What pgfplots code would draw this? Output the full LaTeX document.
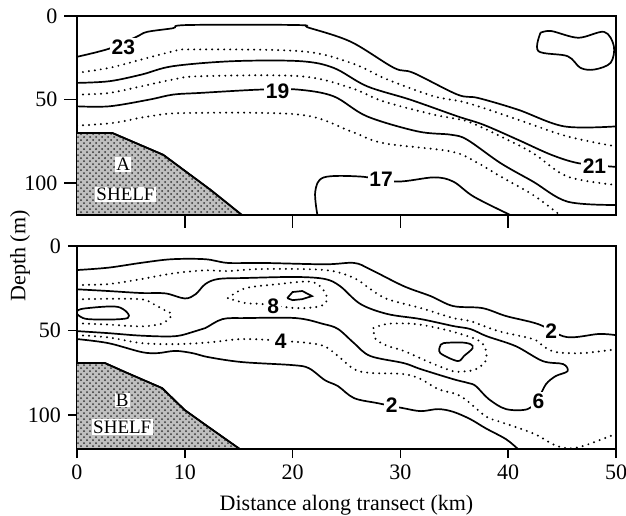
\documentclass[border=0pt]{standalone}
\usepackage{fontspec}
\setmainfont{Liberation Serif}
\setsansfont{Liberation Sans}
\usepackage{pgfplots}
\pgfplotsset{compat=1.18}
\usetikzlibrary{calc,patterns}

\pgfplotsset{
  panel/.style={
    scale only axis, width=269.5pt,
    xmin=0, xmax=50, y dir=reverse, ymin=0,
    ytick={0,50,100}, ytick pos=left, xtick pos=left,
    tick align=outside,
    tick label style={font=\fontsize{11}{12}\selectfont},
    /pgf/number format/assume math mode=true,
    axis line style={line width=0.75pt},
    every tick/.style={black, line width=0.75pt},
  },
  iso/.style={black, line width=0.85pt, smooth, tension=0.55, mark=none},
  isod/.style={iso, line width=1.1pt, line cap=round, dash pattern=on 0pt off 3pt},
  shelf/.style={draw=black, line width=0.85pt, fill=gray!50, mark=none,
    postaction={pattern=crosshatch dots, pattern color=black!80}},
}
\tikzset{
  clab/.style={font=\fontsize{10.5}{11}\selectfont\sffamily\bfseries, fill=white, inner sep=0.8pt},
  slab/.style={font=\fontsize{9.5}{10}\selectfont, fill=white, inner sep=0.6pt},
}

\begin{document}
\begin{tikzpicture}
% ---------- panel A : temperature ----------
\begin{axis}[panel, name=top, height=99.5pt, ymax=119,
  xtick={10,20,30,40}, xticklabels={}, major tick length=6.3pt]

\addplot[shelf] coordinates {(0,70) (3.3,70) (8,83) (12.4,104) (15.3,119) (0,119)};

% 23
\addplot[iso] coordinates {(0,24.4) (3,19.5) (5.5,12.5) (6.5,9.5) (8.9,7.3) (10.2,5.4)
  (20.4,5.4) (21.5,7) (25.4,15.4) (29.4,31) (31.2,34) (35.3,47) (37.2,49) (40.9,56)
  (45.2,66) (50,66)};
\addplot[isod] coordinates {(0,34) (3,31) (6,26) (9,21) (10.5,20) (20.7,21) (25.4,28)
  (28.8,38) (33.1,48) (36.2,52) (40.9,62) (45.5,72) (50,78)};
% 21
\addplot[iso] coordinates {(0,40) (3,39) (6,35) (8.9,30) (14.5,27) (20.7,27) (23.8,31)
  (26.9,42) (30.9,50) (35.3,60) (37.7,65) (40.9,74) (44,83) (46.5,88) (49.5,90) (50,90)};
\addplot[isod] coordinates {(0,47) (3,46) (6.7,41) (8.9,38) (11.4,36) (20.7,36) (25.4,43)
  (28.4,51) (33.1,59) (36.2,63) (39.3,72) (42.3,82) (45.5,96) (50,101)};
% 19
\addplot[iso] coordinates {(0,54) (3,54) (6.7,50) (8.9,47) (11.4,46) (17,44) (20.5,44)
  (23.8,48) (26.9,60) (31.6,69) (34.7,71) (36.2,74) (39.3,88) (42.3,99) (45.5,111) (50,113)};
\addplot[isod] coordinates {(0,65.5) (3.3,64) (6.7,60) (10.2,58) (20.7,59) (25.4,69)
  (28.4,76) (34.7,81) (37.2,88) (39.3,96) (42.3,107) (44.6,118)};
% 17
\addplot[iso] coordinates {(22.3,119) (22.1,105) (22.9,96.5) (26.3,96) (29.7,99)
  (33.1,96.5) (34.9,99) (36.8,108) (40.2,119)};
% warm patch, upper right
\addplot[iso] coordinates {(43,10) (44,9) (46.5,13) (48.9,9.5) (49.8,18) (49.5,28)
  (48,32) (46.7,31) (45.5,24) (42.8,21) (43,10)};

\node[clab] at (axis cs:4.3,18.5) {23};
\node[clab] at (axis cs:18.6,45) {19};
\node[clab] at (axis cs:48,90) {21};
\node[clab] at (axis cs:28.2,97.6) {17};
\node[slab] at (axis cs:4.3,88.7) {A};
\node[slab] at (axis cs:4.5,106.5) {SHELF};
\end{axis}

% ---------- panel B ----------
\begin{axis}[panel, name=bot, height=101.5pt, ymax=120,
  at={($(top.south west)+(0,-15.5pt)$)}, anchor=north west,
  xtick={0,10,...,50}, major tick length=4.5pt,
  xlabel={Distance along transect (km)},
  xlabel style={font=\fontsize{11}{12}\selectfont, yshift=-1pt}]

\addplot[shelf] coordinates {(0,69.2) (2.6,69.2) (4.5,74.6) (7.9,84) (10,97) (12.2,107) (15.1,120) (0,120)};

% outer 2
\addplot[iso] coordinates {(0,14.2) (2.9,12.8) (6,9.9) (8.8,7.8) (11.9,7.8) (14,10)
  (17.2,10) (23,10.8) (25.7,10) (27.2,13.8) (30.3,23.7) (32.8,29.6) (34.9,35.5)
  (37.6,36.7) (39.8,41.4) (42.8,46.2) (45.4,53.8) (48.4,52) (50,52.7)};
\addplot[isod] coordinates {(0,23) (2.9,22.5) (6,19.5) (9.1,16) (11.9,14.4) (14,14.8)
  (17.2,13.6) (23,14.2) (25.7,18.9) (27.2,25.4) (28.8,31.4) (31.9,36.7) (34.9,42.6)
  (36.5,44.4) (39.1,50.3) (42.3,55) (43.2,59) (44.4,62.7) (46.9,63.3) (50,61)};
% 6
\addplot[iso] coordinates {(0,25.6) (2.9,26.6) (6,27.8) (8.2,28) (10,31) (11,28.5)
  (11.9,22.5) (13.1,19.5) (15.6,18.9) (20.3,18.3) (23,19.5) (24.4,23.7) (26.3,34.3)
  (28.8,40.2) (31.9,43.2) (34.9,47.3) (36.5,49.1) (38,53.3) (40.7,59.2) (43.2,68)
  (45.1,69.8) (45.5,74) (44.4,76.9) (43.5,81.7) (42.8,90) (41.8,96.4) (39.8,96.4)
  (38.2,90.5) (37,82.8) (36.3,81) (34.9,78.7) (31.9,72.8) (30.3,69.2) (27.2,65)
  (25.7,57.4) (24.2,49) (22.8,46) (20.3,42.6) (15.6,42.6) (13.5,43.2) (11.9,48.5)
  (11,50.3) (9.1,53.3) (6,53) (2.9,51.5) (0,50.3)};
% dotted cell at left edge
\addplot[isod] coordinates {(0,31.5) (2.9,31.2) (6,31.5) (7,34) (8,37.5) (8.8,40.2)
  (8.5,43) (7.8,46) (6,47.5) (3,46.5) (0,45.6)};
\addplot[iso] coordinates {(0,38.5) (0.7,36.9) (3.8,36) (4.7,42.6) (1,43.2) (0,40)};
% 8 cell
\addplot[isod] coordinates {(14,30.8) (15.6,25) (18.7,22.5) (21.5,21) (22.6,24)
  (23.2,31) (22.6,35.5) (20.3,36.7) (17.2,34.3) (15.6,33.7) (14,30.8)};
\addplot[iso, sharp plot] coordinates {(19.5,30.8) (20,27.2) (20.9,26.6) (21.8,29.6)
  (20.9,31.4) (20,32) (19.5,30.8)};
% cell near 35 km
\addplot[isod] coordinates {(27.5,48.5) (28.8,46) (31.2,46) (33.5,48.5) (35.6,52)
  (37.3,56) (37.9,61) (37.9,68) (37,72.8) (36.1,74) (34.9,74) (32.8,69) (30.3,62)
  (28.8,59) (27.7,55) (27.5,48.5)};
\addplot[iso] coordinates {(33.7,59) (34,57.4) (35.6,57) (36.5,58) (36.7,60.4)
  (35.9,65) (35.3,68) (33.7,63.3) (33.7,59)};
% 4
\addplot[isod] coordinates {(0,52.7) (2.9,54) (6,57.4) (9.1,58) (12.2,57) (15.3,55)
  (18.9,56) (22.6,58.5) (24.2,65) (25.7,72.8) (27.2,75) (30.3,75.7) (31.9,78.7)
  (33.5,84.6) (35.6,88.8) (37.9,100.6) (39.1,103.6) (42.3,110.7) (44.1,117)
  (45.4,119.5) (46.9,118.3) (50,111)};
% lower 2
\addplot[iso] coordinates {(0,55) (2.9,57.4) (6,62.7) (7.5,63.3) (9.1,62) (10.7,63.3)
  (12.2,65.7) (15.3,68.6) (20,70.4) (21.5,72.2) (23,79.3) (24.2,82.8) (25.7,89.9)
  (27.9,92.9) (30.3,95.9) (31.9,97.6) (33.5,96.4) (34.9,98) (36.5,102.4) (37.9,107.7)
  (39.8,114.2) (40.9,120)};

\node[clab] at (axis cs:44,50.3) {2};
\node[clab] at (axis cs:18.2,35.5) {8};
\node[clab] at (axis cs:18.9,56.2) {4};
\node[clab] at (axis cs:29.2,94) {2};
\node[clab] at (axis cs:42.8,91.7) {6};
\node[slab] at (axis cs:4.2,91) {B};
\node[slab] at (axis cs:4.2,107) {SHELF};
\end{axis}

\node[rotate=90, font=\fontsize{11}{12}\selectfont] at ($(top.south west)+(-28.5pt,-20.5pt)$) {Depth (m)};

\pgfresetboundingbox
\path ($(bot.south west)+(-38.5pt,-33pt)$) rectangle ($(top.north east)+(5pt,8pt)$);
\end{tikzpicture}
\end{document}
